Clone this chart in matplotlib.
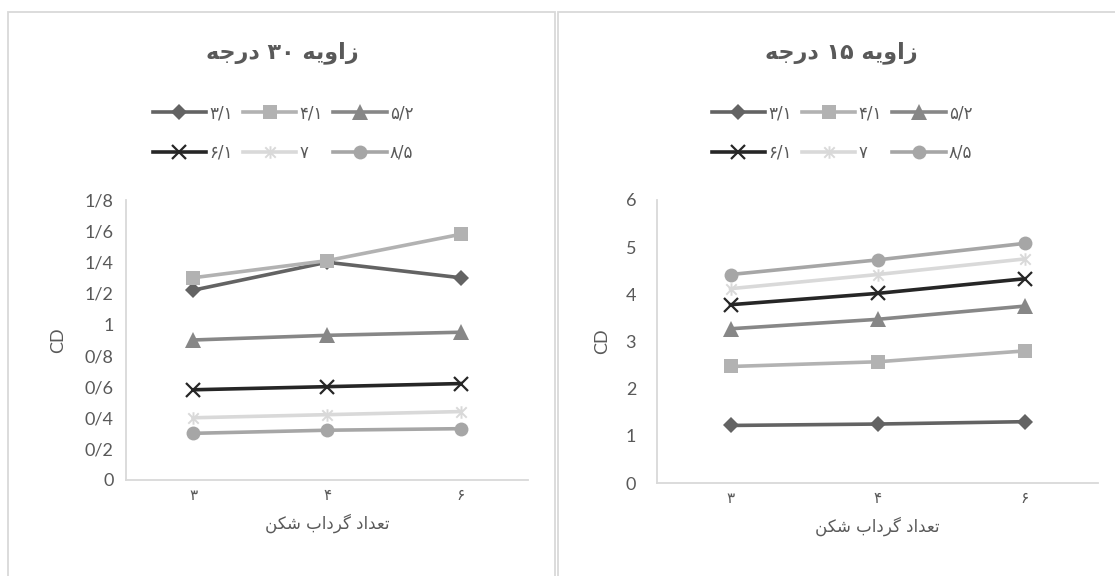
import matplotlib.pyplot as plt
from matplotlib.path import Path
from matplotlib.patches import Rectangle

# series: number of vortex generators vs drag coefficient
vortex_counts = ['۳', '۴', '۶']
series_names = ['۳/۱', '۴/۱', '۵/۲', '۶/۱', '۷', '۸/۵']

cd_30 = [
    [1.22, 1.40, 1.30],
    [1.30, 1.41, 1.58],
    [0.90, 0.93, 0.95],
    [0.58, 0.60, 0.62],
    [0.40, 0.42, 0.44],
    [0.30, 0.32, 0.33],
]
cd_15 = [
    [1.22, 1.25, 1.30],
    [2.47, 2.57, 2.80],
    [3.27, 3.47, 3.75],
    [3.78, 4.02, 4.33],
    [4.12, 4.42, 4.75],
    [4.42, 4.73, 5.08],
]

ticks_30 = [0, 0.2, 0.4, 0.6, 0.8, 1.0, 1.2, 1.4, 1.6, 1.8]
ticks_15 = [0, 1, 2, 3, 4, 5, 6]

title_30 = 'زاویه ۳۰ درجه'
title_15 = 'زاویه ۱۵ درجه'
xlabel_text = 'تعداد گرداب شکن'

# minimal persian shaping: (isolated, final, initial, medial)
FORMS = {
    'ا': ('\uFE8D', '\uFE8E'),
    'د': ('\uFEA9', '\uFEAA'),
    'ر': ('\uFEAD', '\uFEAE'),
    'ز': ('\uFEAF', '\uFEB0'),
    'و': ('\uFEED', '\uFEEE'),
    'ب': ('\uFE8F', '\uFE90', '\uFE91', '\uFE92'),
    'ت': ('\uFE95', '\uFE96', '\uFE97', '\uFE98'),
    'ج': ('\uFE9D', '\uFE9E', '\uFE9F', '\uFEA0'),
    'ش': ('\uFEB5', '\uFEB6', '\uFEB7', '\uFEB8'),
    'ع': ('\uFEC9', '\uFECA', '\uFECB', '\uFECC'),
    'ن': ('\uFEE5', '\uFEE6', '\uFEE7', '\uFEE8'),
    'ه': ('\uFEE9', '\uFEEA', '\uFEEB', '\uFEEC'),
    'ی': ('\uFBFC', '\uFBFD', '\uFBFE', '\uFBFF'),
    'ک': ('\uFB8E', '\uFB8F', '\uFB90', '\uFB91'),
    'گ': ('\uFB92', '\uFB93', '\uFB94', '\uFB95'),
}


def shape_word(word):
    if not any(c in FORMS for c in word):
        return word
    out = []
    for i, c in enumerate(word):
        forms = FORMS.get(c)
        if forms is None:
            out.append(c)
            continue
        prev = word[i - 1] if i > 0 else ''
        nxt = word[i + 1] if i + 1 < len(word) else ''
        join_prev = prev in FORMS and len(FORMS[prev]) == 4
        join_next = len(forms) == 4 and nxt in FORMS
        if join_prev and join_next:
            out.append(forms[3])
        elif join_prev:
            out.append(forms[1])
        elif join_next:
            out.append(forms[2])
        else:
            out.append(forms[0])
    return ''.join(reversed(out))


def rtl(text):
    return ' '.join(shape_word(w) for w in reversed(text.split(' ')))


star = Path([(-1, -1), (1, 1), (-1, 1), (1, -1), (0, -1.2), (0, 1.2)],
            [Path.MOVETO, Path.LINETO, Path.MOVETO, Path.LINETO,
             Path.MOVETO, Path.LINETO])

styles = [
    dict(color='#636363', marker='D', ms=8),
    dict(color='#b2b2b2', marker='s', ms=10),
    dict(color='#878787', marker='^', ms=11),
    dict(color='#262626', marker='x', ms=10, mew=1.6),
    dict(color='#d9d9d9', marker=star, ms=9, mew=1.4),
    dict(color='#a6a6a6', marker='o', ms=10),
]

W, H = 1115, 576
GRAY = '#595959'
EDGE = '#d9d9d9'
PERSIAN = 'DejaVu Sans'
LATIN = ['Lato', 'DejaVu Sans']

fig = plt.figure(figsize=(W / 100, H / 100), dpi=100)


def px_axes(x0, x1, ytop, ybot):
    return fig.add_axes([x0 / W, 1 - ybot / H, (x1 - x0) / W, (ybot - ytop) / H])


# panel frames
fig.patches.append(Rectangle((8 / W, -0.05), (555 - 8) / W, 1.05 - 12.5 / H,
                             transform=fig.transFigure, fill=False,
                             ec=EDGE, lw=1.3))
fig.patches.append(Rectangle((558 / W, -0.05), 0.6, 1.05 - 12.5 / H,
                             transform=fig.transFigure, fill=False,
                             ec=EDGE, lw=1.3))

panels = [
    (px_axes(126, 528, 200, 480), cd_30, ticks_30, 1.8, title_30, 282, 9, 13),
    (px_axes(657, 1098, 200, 483), cd_15, ticks_15, 6, title_15, 841, 15, 11),
]

for ax, data, ticks, ymax, title, cx, ypad, cdpad in panels:
    handles = []
    for name, vals, st in zip(series_names, data, styles):
        st = dict(st)
        line, = ax.plot(range(len(vortex_counts)), vals, color=st.pop('color'),
                        lw=2.6, label=name, **st)
        if st.get('marker') in ('x',) or st.get('marker') is star:
            line.set_markeredgecolor(line.get_color())
        else:
            line.set_markeredgewidth(0)
        handles.append(line)

    ax.set_xlim(-0.5, len(vortex_counts) - 0.5)
    ax.set_ylim(0, ymax)
    ax.set_xticks(range(len(vortex_counts)))
    ax.set_xticklabels(vortex_counts, family=PERSIAN, fontsize=11, color=GRAY)
    ax.set_yticks(ticks)
    ax.set_yticklabels([f'{t:g}'.replace('.', '/') for t in ticks],
                       family=LATIN, fontsize=13, color=GRAY)
    ax.tick_params(axis='x', length=0, pad=6)
    ax.tick_params(axis='y', length=0, pad=ypad)
    for side in ('top', 'right'):
        ax.spines[side].set_visible(False)
    for side in ('left', 'bottom'):
        ax.spines[side].set_color(EDGE)
        ax.spines[side].set_linewidth(1.3)
    ax.set_xlabel(rtl(xlabel_text), family=PERSIAN, fontsize=12, color=GRAY,
                  labelpad=7)
    ax.set_ylabel('CD', family=LATIN, fontsize=13, color=GRAY, labelpad=cdpad)

    fig.text(cx / W, 1 - 53 / H, rtl(title), family=PERSIAN, fontsize=16,
             fontweight='bold', color=GRAY, ha='center', va='center')

    # legend is filled column by column, so order handles to read across rows
    order = [0, 3, 1, 4, 2, 5]
    fig.legend(handles=[handles[i] for i in order], loc='center', ncol=3,
               frameon=False, bbox_to_anchor=(cx / W + 0.001, 1 - 133 / H),
               prop=dict(family=PERSIAN, size=12), labelcolor=GRAY,
               handlelength=3.2, handletextpad=0.2, columnspacing=0.6,
               labelspacing=1.3, numpoints=1)

fig.savefig('out.png', dpi=100)
